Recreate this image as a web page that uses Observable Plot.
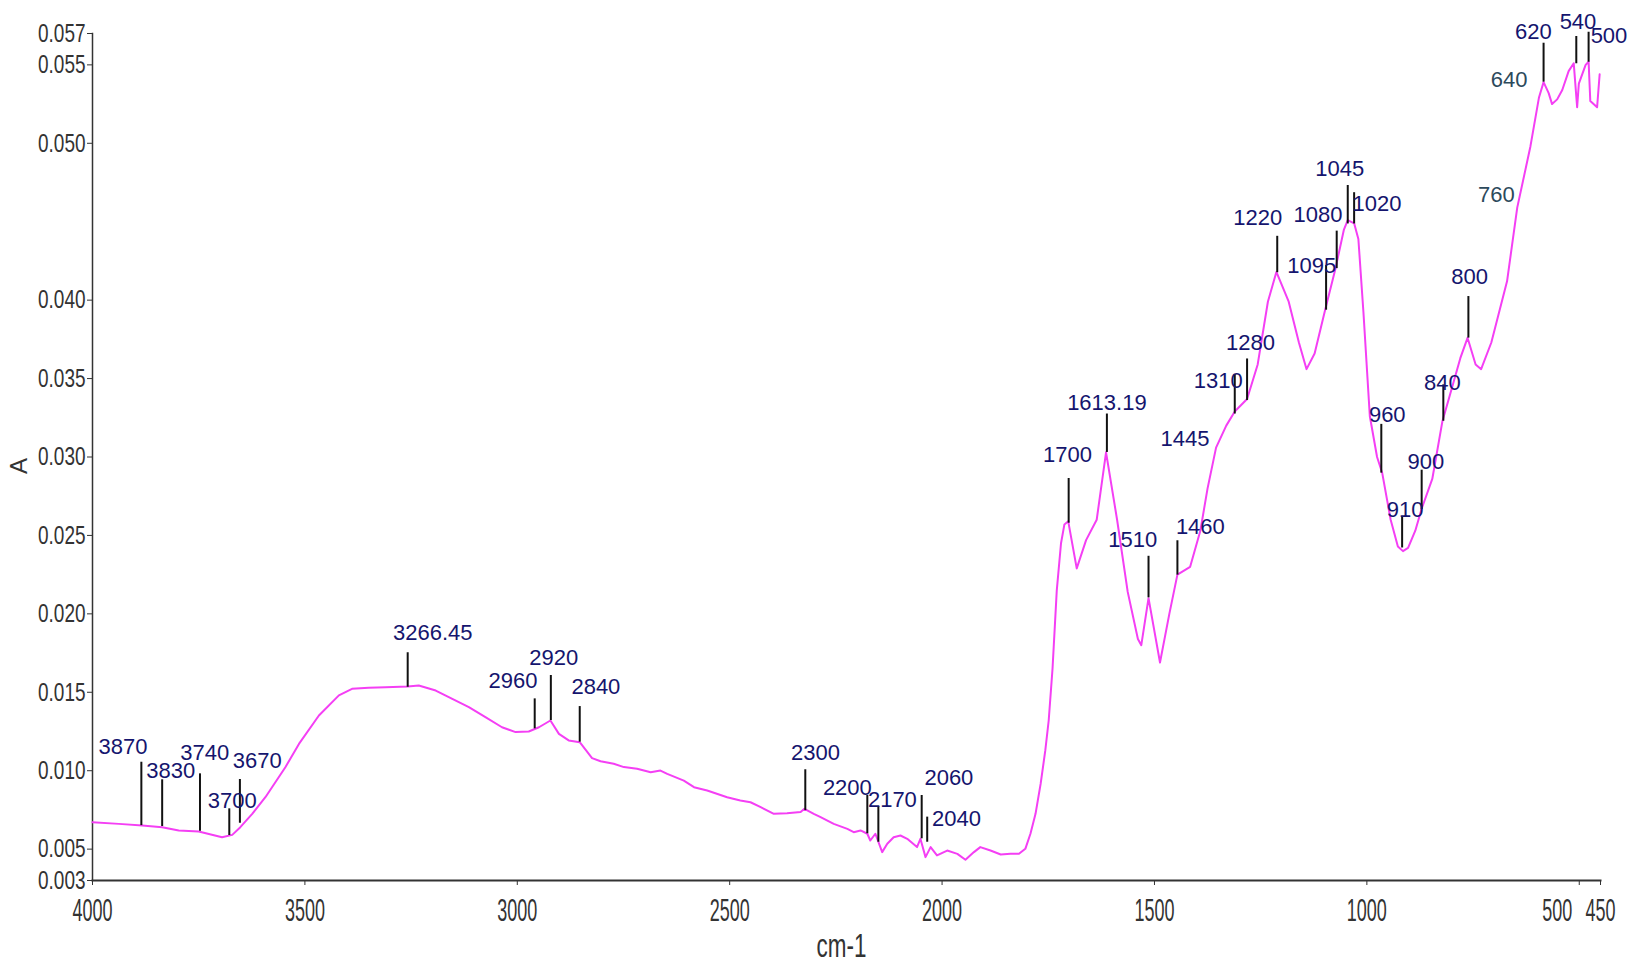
<!DOCTYPE html>
<html><head><meta charset="utf-8">
<script src="https://cdn.jsdelivr.net/npm/d3@7"></script>
<script src="https://cdn.jsdelivr.net/npm/@observablehq/plot@0.6"></script>
<style>html,body{margin:0;padding:0;background:#fff;}</style>
</head><body><div id="chart"></div>
<script>
// Spectrum (wavenumber cm-1, absorbance A)
const wavenumber = [
  4000,3938,3883,3836,3797,3750,3695,3671,3652,3624,
  3593,3546,3514,3467,3420,3389,3350,3310,3258,3232,
  3192,3153,3114,3075,3036,3004,2973,2949,2922,2902,
  2879,2853,2824,2804,2773,2749,2718,2686,2663,2647,
  2608,2584,2553,2506,2475,2451,2427,2396,2365,2333,
  2324,2302,2286,2255,2223,2208,2192,2176,2169,2157,
  2141,2129,2114,2098,2082,2059,2051,2039,2027,2012,
  1988,1964,1945,1925,1910,1886,1862,1839,1819,1804,
  1792,1780,1768,1757,1749,1740,1730,1720,1712,1703,
  1683,1661,1636,1614,1588,1563,1539,1531,1514,1487,
  1465,1446,1416,1392,1375,1355,1331,1311,1282,1257,
  1233,1213,1184,1160,1142,1123,1098,1074,1054,1045,
  1030,1020,1008,993,976,964,944,927,915,903,
  886,871,846,822,805,780,763,744,731,707,
  670,646,615,595,584,572,564,552,540,525,
  513,505,501,485,478,474,458,452];
const absorbance = [
  0.00672,0.00661,0.00651,0.0064,0.00619,0.00612,0.00576,0.00591,0.0064,0.00725,
  0.00831,0.01022,0.01171,0.01352,0.0148,0.01522,0.01529,0.01532,0.01537,0.01543,
  0.01511,0.01458,0.01405,0.01341,0.01277,0.01246,0.0125,0.01277,0.0132,0.01235,
  0.01193,0.01182,0.0108,0.0106,0.01044,0.01023,0.01012,0.0099,0.01001,0.0098,
  0.00937,0.00895,0.00874,0.00831,0.0081,0.00799,0.00768,0.00725,0.00729,0.00736,
  0.00757,0.00725,0.00704,0.00661,0.00629,0.00608,0.00619,0.00598,0.00555,0.00598,
  0.00481,0.00534,0.00576,0.00587,0.00566,0.00513,0.00566,0.00449,0.00513,0.0046,
  0.00491,0.0047,0.00432,0.00481,0.00513,0.00491,0.00466,0.0047,0.0047,0.00502,
  0.00598,0.00725,0.00916,0.01129,0.0132,0.0165,0.0215,0.0245,0.0257,0.0259,
  0.0229,0.0247,0.026,0.0303,0.026,0.0214,0.0184,0.018,0.021,0.0169,
  0.02,0.0225,0.023,0.0253,0.028,0.0306,0.032,0.0329,0.0337,0.0359,
  0.0399,0.0418,0.0399,0.0373,0.0356,0.0366,0.0394,0.042,0.0445,0.0451,
  0.0449,0.0439,0.0392,0.0326,0.03,0.029,0.026,0.0243,0.024,0.0242,
  0.0253,0.0267,0.0286,0.0323,0.0339,0.0363,0.0376,0.0359,0.0356,0.0373,
  0.0412,0.0459,0.0498,0.0529,0.0539,0.0532,0.0525,0.0528,0.0534,0.0546,
  0.0551,0.0523,0.0538,0.055,0.0552,0.0527,0.0523,0.0544];

// Peak markers: label, position, bottom / top of tick (absorbance)
const markLabel = ["3870","3830","3740","3700","3670","3266.45","2960","2920","2840","2300","2200","2170","2060","2040","1700","1613.19","1510","1460","1310","1280","1220","1095","1080","1045","1020","960","910","900","840","800","620","540","500"];
const markWn = [3885,3836,3747,3678,3653,3258,2959,2921,2853,2322,2176,2150,2048,2035,1702,1612,1514,1446,1311,1282,1211,1096,1071,1045,1030,966,917,871,820,761,584,507,478];
const markLo = [0.0065,0.00644,0.00614,0.00587,0.00665,0.01532,0.01267,0.0132,0.01182,0.00746,0.00598,0.00544,0.00566,0.00544,0.02578,0.03029,0.02102,0.02247,0.03274,0.0336,0.04175,0.03936,0.04201,0.04486,0.04486,0.02897,0.0242,0.02665,0.03228,0.03758,0.0539,0.05507,0.05517];
const markHi = [0.01054,0.00942,0.0098,0.00757,0.00944,0.01752,0.01458,0.01607,0.01409,0.01006,0.00842,0.00772,0.00842,0.00704,0.02863,0.03274,0.02367,0.02466,0.03526,0.03625,0.04407,0.04221,0.0444,0.04731,0.04685,0.03208,0.02618,0.02916,0.0346,0.04023,0.05638,0.05681,0.05708];

// Peak labels (text, wavenumber, absorbance of label centre)
const labelText = ["3870","3830","3740","3700","3670","3266.45","2960","2920","2840","2300","2200","2170","2060","2040","1700","1613.19","1510","1460","1445","1310","1280","1220","1095","1080","1045","1020","960","910","900","840","800","760","640","620","540","500"];
const labelWn = [3928,3816,3736,3671,3612,3199,3010,2914,2815,2298,2223,2117,1984,1966,1705,1612,1551,1392,1428,1350,1274,1257,1130,1115,1064,976,952,910,861,822,758,695,665,608,503,430];
const labelA = [0.0115,0.01001,0.01112,0.0081,0.0106,0.01879,0.01571,0.0172,0.01532,0.01114,0.00891,0.00815,0.00952,0.00693,0.03016,0.03347,0.02473,0.02552,0.03115,0.03486,0.03725,0.04526,0.04215,0.04546,0.04837,0.04612,0.03267,0.0266,0.02969,0.03473,0.04148,0.04672,0.05402,0.05708,0.05772,0.05687];
const slateLabels = ["640","760"];

const xTicks = [4000,3500,3000,2500,2000,1500,1000,500,450];
const yTicks = [0.003,0.005,0.010,0.015,0.020,0.025,0.030,0.035,0.040,0.050,0.055,0.057];
const xTitle = "cm-1";
const yTitle = "A";

const spectrum = wavenumber.map((w, i) => ({w, a: absorbance[i]}));
const marks = markLabel.map((t, i) => ({t, w: markWn[i], lo: markLo[i], hi: markHi[i]}));
const labels = labelText.map((t, i) => ({t, w: labelWn[i], a: labelA[i]}));

// "Narrow" marks the axis-lettering groups that get horizontally condensed below
const narrow = "'Liberation Sans Narrow','Liberation Sans',Arial,sans-serif";
const arial = "'Liberation Sans',Arial,sans-serif";
const axisColor = "#333";

const chart = Plot.plot({
  width: 1629, height: 964,
  marginLeft: 92, marginRight: 29, marginTop: 33, marginBottom: 84,
  style: {background: "#fff", overflow: "visible"},
  x: {domain: [4000, 450]},
  y: {domain: [0.003, 0.057]},
  marks: [
    Plot.axisY({ticks: yTicks, tickFormat: d3.format(".3f"), tickSize: 5, tickPadding: 2, label: null,
      fontFamily: narrow, fontSize: 26, color: axisColor}),
    Plot.axisX({ticks: xTicks.filter(d => d !== 500), tickFormat: d => String(d), tickSize: 5, tickPadding: 13, label: null,
      fontFamily: narrow, fontSize: 31, color: axisColor}),
    Plot.axisX({ticks: [500], tickFormat: () => "", tickSize: 5, label: null, color: axisColor}),
    Plot.text([500], {x: d => d, text: d => String(d), frameAnchor: "bottom", dy: 18, dx: -7,
      textAnchor: "end", lineAnchor: "top", fontFamily: narrow, fontSize: 31, fill: axisColor}),
    Plot.frame({anchor: "left", stroke: axisColor, strokeWidth: 1.5}),
    Plot.frame({anchor: "bottom", stroke: axisColor, strokeWidth: 2}),
    Plot.text([xTitle], {frameAnchor: "bottom", dx: -5, dy: 76, fontFamily: narrow, fontSize: 34, fill: axisColor}),
    Plot.text([yTitle], {frameAnchor: "left", dx: -73, dy: 17, rotate: -90, fontFamily: arial, fontSize: 24, fill: axisColor}),
    Plot.line(spectrum, {x: "w", y: "a", stroke: "#f43ff4", strokeWidth: 2}),
    Plot.ruleX(marks, {x: "w", y1: "lo", y2: "hi", stroke: "#111", strokeWidth: 2}),
    Plot.text(labels, {x: "w", y: "a", text: "t", fontFamily: arial, fontSize: 22,
      fill: d => slateLabels.includes(d.t) ? "#2c4a5c" : "#15156e"})
  ]
});
document.getElementById("chart").appendChild(chart);

// Condense the axis lettering horizontally (narrow, tall digits as in the original)
const condense = {26: 0.73, 31: 0.58, 34: 0.66};
chart.querySelectorAll('g[font-family*="Narrow"] text').forEach(el => {
  const fs = parseFloat(el.parentNode.getAttribute("font-size"));
  const s = condense[fs] || 0.66;
  const len = el.getComputedTextLength();
  if (len > 0) {
    el.setAttribute("textLength", (len * s).toFixed(2));
    el.setAttribute("lengthAdjust", "spacingAndGlyphs");
  }
});
</script></body></html>
